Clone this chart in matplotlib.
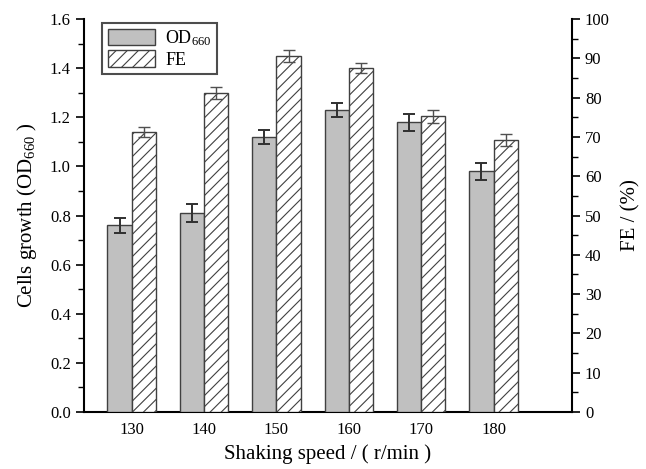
import matplotlib
matplotlib.use("Agg")
import matplotlib.pyplot as plt
import numpy as np
from matplotlib.ticker import MultipleLocator

plt.rcParams['font.family'] = ['Liberation Serif', 'DejaVu Serif']
plt.rcParams['mathtext.fontset'] = 'custom'
plt.rcParams['mathtext.rm'] = 'Liberation Serif'
plt.rcParams['mathtext.it'] = 'Liberation Serif:italic'
plt.rcParams['mathtext.bf'] = 'Liberation Serif:bold'
plt.rcParams['hatch.linewidth'] = 0.8

speeds = [130, 140, 150, 160, 170, 180]
od660 = [0.76, 0.81, 1.12, 1.23, 1.18, 0.98]
od_err = [0.03, 0.035, 0.03, 0.03, 0.035, 0.035]
fe = [71.2, 81.2, 90.6, 87.5, 75.2, 69.2]
fe_err = [1.3, 1.5, 1.5, 1.2, 1.6, 1.6]

fig = plt.figure(figsize=(6.46, 4.69), dpi=100)
ax = fig.add_axes([0.130, 0.1215, 0.755, 0.838])
ax2 = ax.twinx()

x = np.array(speeds, dtype=float)
w = 3.35
b1 = ax.bar(x - w/2, od660, width=w, color='#c0c0c0', edgecolor='#404040', linewidth=1.0,
            yerr=od_err, capsize=4, error_kw=dict(ecolor='#303030', elinewidth=1.4, capthick=1.4),
            label='OD$_{660}$', zorder=3)
b2 = ax2.bar(x + w/2, fe, width=w, color='white', edgecolor='#404040', linewidth=1.0, hatch='///',
             yerr=fe_err, capsize=4, error_kw=dict(ecolor='#505050', elinewidth=1.0, capthick=1.0),
             label='FE', zorder=3)

ax.set_xlim(123.4, 190.8)
ax.set_ylim(0, 1.6)
ax2.set_ylim(0, 100)
ax.set_xticks(speeds)
ax.set_xticklabels([str(s) for s in speeds])
ax.yaxis.set_major_locator(MultipleLocator(0.2))
ax.yaxis.set_minor_locator(MultipleLocator(0.1))
ax.yaxis.set_major_formatter(matplotlib.ticker.FormatStrFormatter('%.1f'))
ax2.yaxis.set_major_locator(MultipleLocator(10))
ax2.yaxis.set_minor_locator(MultipleLocator(5))

for a in (ax, ax2):
    a.spines['top'].set_visible(False)
    for s in a.spines.values():
        s.set_linewidth(1.5)
ax.spines['right'].set_visible(False)
ax2.spines['left'].set_visible(False)
ax2.spines['bottom'].set_visible(False)

ax.tick_params(axis='y', which='major', direction='out', length=6, width=1.2, labelsize=12)
ax.tick_params(axis='y', which='minor', direction='out', length=4, width=1.0)
ax.tick_params(axis='x', which='both', length=0, labelsize=12, pad=7)
ax2.tick_params(axis='y', which='major', direction='out', length=6, width=1.2, labelsize=12)
ax2.tick_params(axis='y', which='minor', direction='out', length=4, width=1.0)

ax.set_xlabel('Shaking speed / ( r/min )', fontsize=15, labelpad=5)
ax.set_ylabel('Cells growth (OD$_{660}$ )', fontsize=15, labelpad=8)
ax2.set_ylabel('FE / (%)', fontsize=15, labelpad=8)

leg = ax.legend([b1, b2], ['OD$_{660}$', 'FE'], loc='upper left', bbox_to_anchor=(0.03, 1.0),
                fontsize=13, frameon=True, fancybox=False, edgecolor='#202020',
                handlelength=2.6, handleheight=1.0, handletextpad=0.6,
                borderpad=0.3, labelspacing=0.15, borderaxespad=0.2)
leg.get_frame().set_linewidth(1.5)

fig.savefig('out.png', dpi=100)
